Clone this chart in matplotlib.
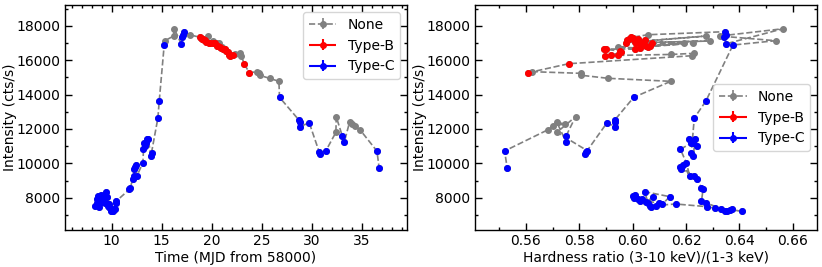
import numpy as np
import matplotlib
matplotlib.use('Agg')
import matplotlib.pyplot as plt
from matplotlib.ticker import AutoMinorLocator, MultipleLocator
from matplotlib.legend_handler import HandlerErrorbar
from matplotlib.container import ErrorbarContainer

# time (MJD - 58000), count rate (cts/s), hardness ratio, QPO type (N/B/C)
time = [8.35, 8.50, 8.58, 8.65, 8.72, 8.78, 8.85, 8.92, 9.00, 9.08, 9.18, 9.30, 9.42, 9.50, 9.60,
        9.68, 9.72, 9.78, 9.85, 9.92, 10.00, 10.08, 10.15, 10.22, 10.30, 10.42, 10.47,
        11.78, 11.85, 12.12, 12.20, 12.25, 12.32, 12.40, 12.52, 13.12, 13.18, 13.25, 13.35, 13.45,
        13.58, 13.65, 13.92, 13.98, 14.62, 14.75, 15.25, 15.32, 16.18, 16.25, 16.95, 17.02, 17.12,
        17.25, 17.78,
        18.85, 18.92, 19.00, 19.10, 19.20, 19.30, 19.40, 19.65, 19.75, 19.85, 20.10, 20.15, 20.25,
        20.35, 20.50, 20.55, 20.65, 20.70, 20.82, 20.95, 21.00, 21.10, 21.25, 21.35, 21.45, 21.58,
        21.68, 21.80, 22.15, 22.35, 22.85, 22.95, 23.25, 23.75,
        24.55, 24.68, 24.78, 25.78, 26.72, 26.78, 28.72, 28.78, 28.80, 29.75, 30.75, 30.78, 31.42,
        32.42, 32.45, 33.05, 33.25, 33.78, 34.02, 34.28, 34.82, 36.52, 36.75]

rate = [7525, 7680, 7913, 8106, 7970, 7448, 7815, 8164, 7913, 7777, 8029, 7680, 8356, 8068, 7622,
        7525, 7641, 7486, 7390, 7236, 7293, 7236, 7255, 7352, 7352, 7718, 7815,
        8493, 8590, 9093, 9268, 9673, 9810, 9906, 9268, 10042, 10819, 11168, 11013, 11168,
        11434, 11414, 10430, 10622, 12638, 13607, 16878, 17130, 17400, 17826, 16954, 17325, 17460,
        17653, 17477,
        17324, 17266, 17228, 17208, 17169, 17169, 17072, 17400, 17014, 17014, 17110, 17014, 16975,
        16975, 16977, 16820, 16820, 16980, 16782, 16685, 16780, 16646, 16646, 16627, 16530, 16452,
        16297, 16239, 16277, 16330, 16396, 16258, 15792, 15270,
        15330, 15234, 15120, 14944, 14769, 13840, 12521, 12386, 12133, 12364, 10662, 10530, 10738,
        11807, 12713, 11609, 11224, 12387, 12290, 12173, 11958, 10720, 9715]

hardness = [0.6089, 0.6099, 0.6020, 0.6001, 0.6004, 0.6070, 0.6029, 0.6008, 0.6035, 0.6051, 0.6076,
            0.6058, 0.6045, 0.6139, 0.6111, 0.6064, 0.6161, 0.6279, 0.6308, 0.6354, 0.6364, 0.6411,
            0.6345, 0.6374, 0.6333, 0.6274, 0.6258,
            0.6264, 0.6258, 0.6241, 0.6229, 0.6182, 0.6176, 0.6189, 0.6214, 0.6201, 0.6179, 0.6218,
            0.6241, 0.6226, 0.6210, 0.6233, 0.6228, 0.6220, 0.6231, 0.6274, 0.6376, 0.6536, 0.6326,
            0.6564, 0.6351, 0.6342, 0.6350, 0.6345, 0.6058,
            0.5995, 0.6001, 0.5986, 0.6020, 0.5980, 0.6045, 0.6007, 0.6275, 0.5976, 0.6014, 0.6289,
            0.6026, 0.6074, 0.6039, 0.6191, 0.6064, 0.6049, 0.6226, 0.6058, 0.6029, 0.5945, 0.6010,
            0.5891, 0.5901, 0.5951, 0.5957, 0.5920, 0.5895, 0.5945, 0.6143, 0.6230, 0.6224, 0.5760,
            0.5609,
            0.5622, 0.5805, 0.5808, 0.5908, 0.6143, 0.6004, 0.5933, 0.5935, 0.5933, 0.5904, 0.5826,
            0.5820, 0.5830, 0.5716, 0.5786, 0.5751, 0.5751, 0.5716, 0.5745, 0.5701, 0.5683, 0.5520,
            0.5530]

qpo = ['C'] * 47 + ['N'] * 3 + ['C'] * 4 + ['N'] + \
      ['B'] * 7 + ['N'] + ['B'] * 2 + ['N'] + ['B'] * 3 + ['N'] + ['B'] * 2 + ['N'] + ['B'] * 2 + \
      ['N'] + ['B'] * 8 + ['N'] * 3 + ['B'] * 2 + \
      ['N'] * 5 + ['C'] * 8 + ['N'] * 2 + ['C'] * 2 + ['N'] * 4 + ['C'] * 2

time = np.array(time)
rate = np.array(rate)
hardness = np.array(hardness)
qpo = np.array(qpo)

fig = plt.figure(figsize=(8.22, 2.67), dpi=100)
ax1 = fig.add_axes([0.0787, 0.1386, 0.4161, 0.8424])
ax2 = fig.add_axes([0.5775, 0.1386, 0.4161, 0.8424])


def draw(ax, x, xerr):
    # all points joined in time order, then the QPO types on top
    ax.errorbar(x, rate, yerr=15, fmt='o--', color='gray', ms=4, lw=1.2,
                elinewidth=1.2, label='None')
    for typ, col, lab in [('B', 'red', 'Type-B'), ('C', 'blue', 'Type-C')]:
        sel = qpo == typ
        ax.errorbar(x[sel], rate[sel], xerr=xerr, yerr=15, fmt='o', color=col, ms=4,
                    elinewidth=1.5, label=lab)
    ax.set_ylabel('Intensity (cts/s)', fontsize=10, labelpad=0)
    ax.yaxis.set_major_locator(MultipleLocator(2000))
    ax.yaxis.set_minor_locator(AutoMinorLocator(2))
    ax.tick_params(which='both', direction='in', top=True, right=True, labelsize=10)
    ax.tick_params(which='major', length=5, width=1, pad=3)
    ax.tick_params(which='minor', length=2.5, width=1)
    for s in ax.spines.values():
        s.set_linewidth(1.0)
    ax.set_ylim(6130, 19200)


hmap = {ErrorbarContainer: HandlerErrorbar(xerr_size=1.0, yerr_size=0.4)}

draw(ax1, time, 0.02)
ax1.set_xlim(5.3, 39.5)
ax1.xaxis.set_major_locator(MultipleLocator(5))
ax1.xaxis.set_minor_locator(AutoMinorLocator(5))
ax1.set_xlabel('Time (MJD from 58000)', fontsize=10, labelpad=2)
ax1.legend(loc='upper right', fontsize=10, handler_map=hmap)

draw(ax2, hardness, 0.0002)
ax2.set_xlim(0.5408, 0.669)
ax2.xaxis.set_major_locator(MultipleLocator(0.02))
ax2.xaxis.set_minor_locator(AutoMinorLocator(2))
ax2.set_xlabel('Hardness ratio (3-10 keV)/(1-3 keV)', fontsize=10, labelpad=2)
ax2.legend(loc='center right', fontsize=10, handler_map=hmap)

fig.savefig('out.png', dpi=100)
